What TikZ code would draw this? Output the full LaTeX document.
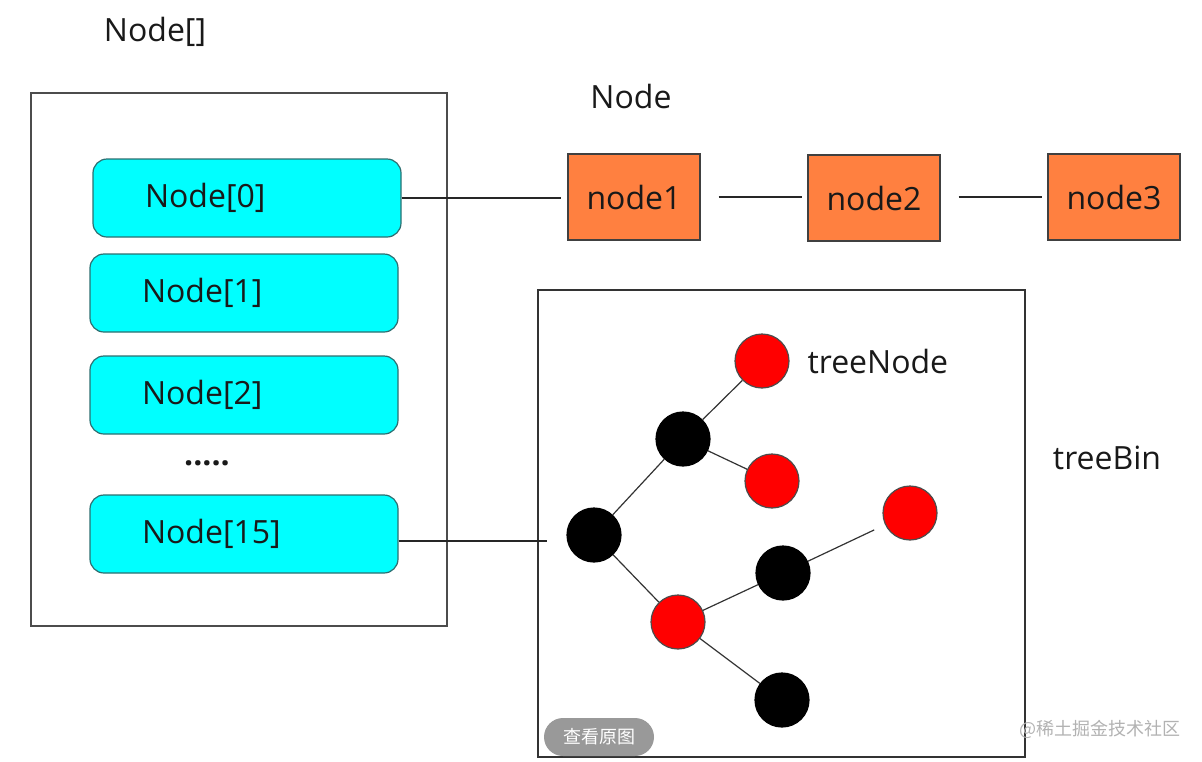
\documentclass[tikz,border=0pt]{standalone}
\usepackage{fontspec}
\setmainfont{Open Sans}
\newfontfamily\cjk{Noto Sans CJK SC}
\usetikzlibrary{positioning}
\definecolor{slotcyan}{HTML}{00FFFF}
\definecolor{slotedge}{HTML}{2E6E70}
\definecolor{listorange}{HTML}{FF8040}
\definecolor{treered}{HTML}{FF0000}

\begin{document}
\begin{tikzpicture}[x=1pt, y=-1pt, node distance=5ex and 4em,
  font=\fontsize{32}{36}\selectfont, text=black!90, line width=1.2pt,
  slot/.style={draw=slotedge, fill=slotcyan, rounded corners=14pt, minimum height=78pt,
    text width=204pt, inner xsep=52pt, align=left},
  listnode/.style={draw=black!75, fill=listorange, minimum width=132pt, minimum height=86pt},
  rednode/.style={circle, draw=black!70, fill=treered, minimum size=54pt, inner sep=0pt},
  blacknode/.style={circle, draw=black, fill=black, minimum size=54pt, inner sep=0pt}]
\useasboundingbox (0,0) rectangle (1202,761);

% table
\node (tablelabel) at (155,32) {Node[]};
\draw[black!70, line width=1.6pt] (31,93) rectangle (447,626);
\node [slot] (slot0) at (247,198) {Node[0]};
\node [slot] (slot1) at (244,293) {Node[1]};
\node [slot] (slot2) at (244,395) {Node[2]};
\node (dots) at (207,463) {\textbf{.....}};
\node [slot] (slot15) at (244,534) {Node[15]};

% linked list
\node (listlabel) at (631,96) {Node};
\node [listnode] (node1) at (634,197) {node1};
\node [listnode] (node2) at (874,198) {node2};
\node [listnode] (node3) at (1114,197) {node3};

\draw[black!85] (slot0.east) -- ++(159,0) coordinate (listin);
\draw[black!85, shorten <=18pt, shorten >=5pt] (node1) -- (node2.west |- node1);
\draw[black!85, shorten <=18pt, shorten >=5pt] (node2.east |- node3) -- (node3);

% tree bin
\draw[black!80, line width=1.6pt] (538,290) rectangle (1025,757);
\node (binlabel) at (1107,458) {treeBin};
\node [rednode] (r1) at (762,361) {};
\node [right=14pt of r1, anchor=west] (treelabel) {treeNode};
\node [blacknode] (b1) at (683,439) {};
\node [rednode] (r2) at (772,481) {};
\node [rednode] (r3) at (910,513) {};
\node [blacknode] (b0) at (594,535) {};
\node [blacknode] (b2) at (783,573) {};
\node [rednode] (r4) at (678,622) {};
\node [blacknode] (b3) at (782,700) {};

\draw[black!85] (slot15.east |- 0,541) -- (547,541) coordinate (binin);
\draw[black!80] (b0) -- (b1);
\draw[black!80] (b1) -- (r1);
\draw[black!80] (b1) -- (r2);
\draw[black!80] (b0) -- (r4);
\draw[black!80] (r4) -- (b2);
\draw[black!80, shorten >=12pt] (b2) -- (r3);
\draw[black!80] (r4) -- (b3);

% overlay
\node [fill=black!40, rounded corners=19pt, minimum width=110pt, minimum height=38pt,
  text=white, font=\cjk\fontsize{18}{20}\selectfont] (viewbtn) at (599,737) {查看原图};
\node [text=black!30, font=\cjk\fontsize{18}{20}\selectfont] (mark) at (1100,729) {@稀土掘金技术社区};
\end{tikzpicture}
\end{document}
